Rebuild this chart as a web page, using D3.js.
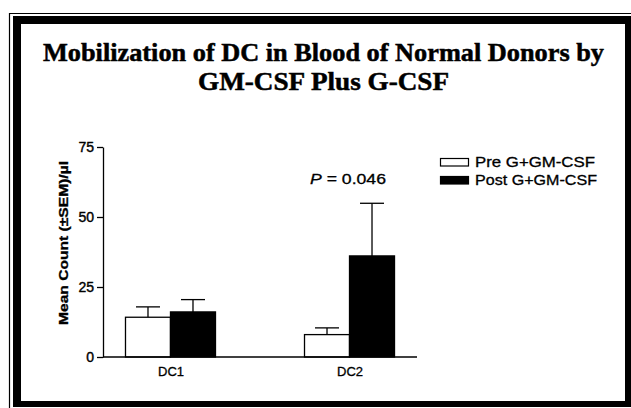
<!DOCTYPE html>
<html>
<head>
<meta charset="utf-8">
<script src="https://cdn.jsdelivr.net/npm/d3@7"></script>
<style>
  html, body { margin: 0; padding: 0; background: #fff; }
  svg { display: block; }
</style>
</head>
<body>
<svg id="chart" width="631" height="408"></svg>
<script>
const categories = ["DC1", "DC2"];
const seriesNames = ["Pre G+GM-CSF", "Post G+GM-CSF"];
const preMean = [14.2, 8.0];
const preSEM = [3.7, 2.4];
const postMean = [16.1, 36.1];
const postSEM = [4.4, 18.8];
const yTicks = [0, 25, 50, 75];
const titleLines = ["Mobilization of DC in Blood of Normal Donors by", "GM-CSF Plus G-CSF"];
const yLabel = "Mean Count (\u00B1SEM)/\u00B5l";
const pLabel = "= 0.046";

const svg = d3.select("#chart");
const sans = "'Liberation Sans', Arial, Helvetica, sans-serif";
const serif = "'Liberation Serif', 'Times New Roman', serif";

// Frame
svg.append("rect").attr("x", 0).attr("y", 0).attr("width", 631).attr("height", 408).attr("fill", "#fff");
svg.append("line").attr("x1", 9.5).attr("x2", 9.5).attr("y1", 13).attr("y2", 408).attr("stroke", "#000").attr("stroke-width", 1.2);
svg.append("line").attr("x1", 9).attr("x2", 631).attr("y1", 13.5).attr("y2", 13.5).attr("stroke", "#000").attr("stroke-width", 1.2);
const frame = svg.append("g").attr("fill", "#000");
frame.append("rect").attr("x", 13).attr("y", 16).attr("width", 8).attr("height", 391);
frame.append("rect").attr("x", 13).attr("y", 16).attr("width", 618).attr("height", 8);
frame.append("rect").attr("x", 625).attr("y", 16).attr("width", 6).attr("height", 391);
frame.append("rect").attr("x", 13).attr("y", 401).attr("width", 618).attr("height", 6);

// Title
svg.append("text").attr("x", 43).attr("y", 60.5)
  .attr("font-family", serif).attr("font-weight", "bold").attr("font-size", 26)
  .attr("stroke", "#000").attr("stroke-width", 0.5)
  .attr("textLength", 561).attr("lengthAdjust", "spacingAndGlyphs")
  .text(titleLines[0]);
svg.append("text").attr("x", 198).attr("y", 90)
  .attr("font-family", serif).attr("font-weight", "bold").attr("font-size", 26)
  .attr("stroke", "#000").attr("stroke-width", 0.5)
  .attr("textLength", 251).attr("lengthAdjust", "spacingAndGlyphs")
  .text(titleLines[1]);

// Scales
const left = 103, right = 417, y0 = 357, yTop = 147;
const x = d3.scalePoint().domain(categories).range([left, right]).padding(0.377);
const xs = d3.scaleBand().domain(seriesNames).range([-45, 45]).padding(0);
const y = d3.scaleLinear().domain([0, 75]).range([y0, yTop]);

const means = [preMean, postMean];
const sems = [preSEM, postSEM];
const fills = ["#fff", "#000"];

const data = [];
seriesNames.forEach((s, si) => {
  categories.forEach((c, ci) => {
    data.push({ s, si, c, m: means[si][ci], e: sems[si][ci] });
  });
});

// Error bars (upper only)
const eb = svg.append("g").attr("stroke", "#000").attr("stroke-width", 1.3);
data.forEach(d => {
  const cx = x(d.c) + xs(d.s) + xs.bandwidth() / 2;
  eb.append("line").attr("x1", cx).attr("x2", cx).attr("y1", y(d.m)).attr("y2", y(d.m + d.e));
  eb.append("line").attr("x1", cx - 12).attr("x2", cx + 12).attr("y1", y(d.m + d.e)).attr("y2", y(d.m + d.e));
});

// Bars
svg.append("g").selectAll("rect").data(data).join("rect")
  .attr("x", d => x(d.c) + xs(d.s))
  .attr("y", d => y(d.m))
  .attr("width", xs.bandwidth())
  .attr("height", d => y0 - y(d.m))
  .attr("fill", d => fills[d.si])
  .attr("stroke", "#000").attr("stroke-width", 1.3);

// Y axis
const yAxis = svg.append("g").attr("transform", `translate(${left},0)`)
  .call(d3.axisLeft(y).tickValues(yTicks).tickSizeInner(6).tickSizeOuter(0).tickPadding(3));
yAxis.select(".domain").attr("stroke-width", 1.3);
yAxis.selectAll(".tick line").attr("stroke-width", 1.3);
yAxis.selectAll("text").attr("font-family", sans).attr("font-size", 14).attr("fill", "#000")
  .attr("stroke", "#000").attr("stroke-width", 0.4);

// X axis
const xAxis = svg.append("g").attr("transform", `translate(0,${y0})`)
  .call(d3.axisBottom(x).tickSize(0).tickPadding(10));
xAxis.select(".domain").attr("stroke-width", 1.3).attr("d", `M${left},0H${right}`);
xAxis.selectAll("text").attr("font-family", sans).attr("font-size", 13).attr("fill", "#000")
  .attr("stroke", "#000").attr("stroke-width", 0.3);

// Y label
svg.append("text")
  .attr("transform", `translate(68,243) rotate(-90)`)
  .attr("text-anchor", "middle")
  .attr("font-family", sans).attr("font-weight", "bold").attr("font-size", 12.5)
  .attr("stroke", "#000").attr("stroke-width", 0.3)
  .attr("textLength", 164).attr("lengthAdjust", "spacingAndGlyphs")
  .text(yLabel);

// P value
const pt = svg.append("text").attr("x", 310).attr("y", 183.5)
  .attr("font-family", sans).attr("font-size", 15)
  .attr("stroke", "#000").attr("stroke-width", 0.3)
  .attr("textLength", 76).attr("lengthAdjust", "spacingAndGlyphs");
pt.append("tspan").attr("font-style", "italic").text("P");
pt.append("tspan").text(" " + pLabel);

// Legend
const lg = svg.append("g");
seriesNames.forEach((s, i) => {
  const ly = 158.5 + i * 18;
  lg.append("rect").attr("x", 440.5).attr("y", ly).attr("width", 28).attr("height", 7.5)
    .attr("fill", fills[i]).attr("stroke", "#000").attr("stroke-width", 1.2);
  lg.append("text").attr("x", 475).attr("y", ly + 8)
    .attr("font-family", sans).attr("font-size", 14)
    .attr("stroke", "#000").attr("stroke-width", 0.3)
    .attr("textLength", i === 0 ? 120 : 122).attr("lengthAdjust", "spacingAndGlyphs")
    .text(s);
});
</script>
</body>
</html>
